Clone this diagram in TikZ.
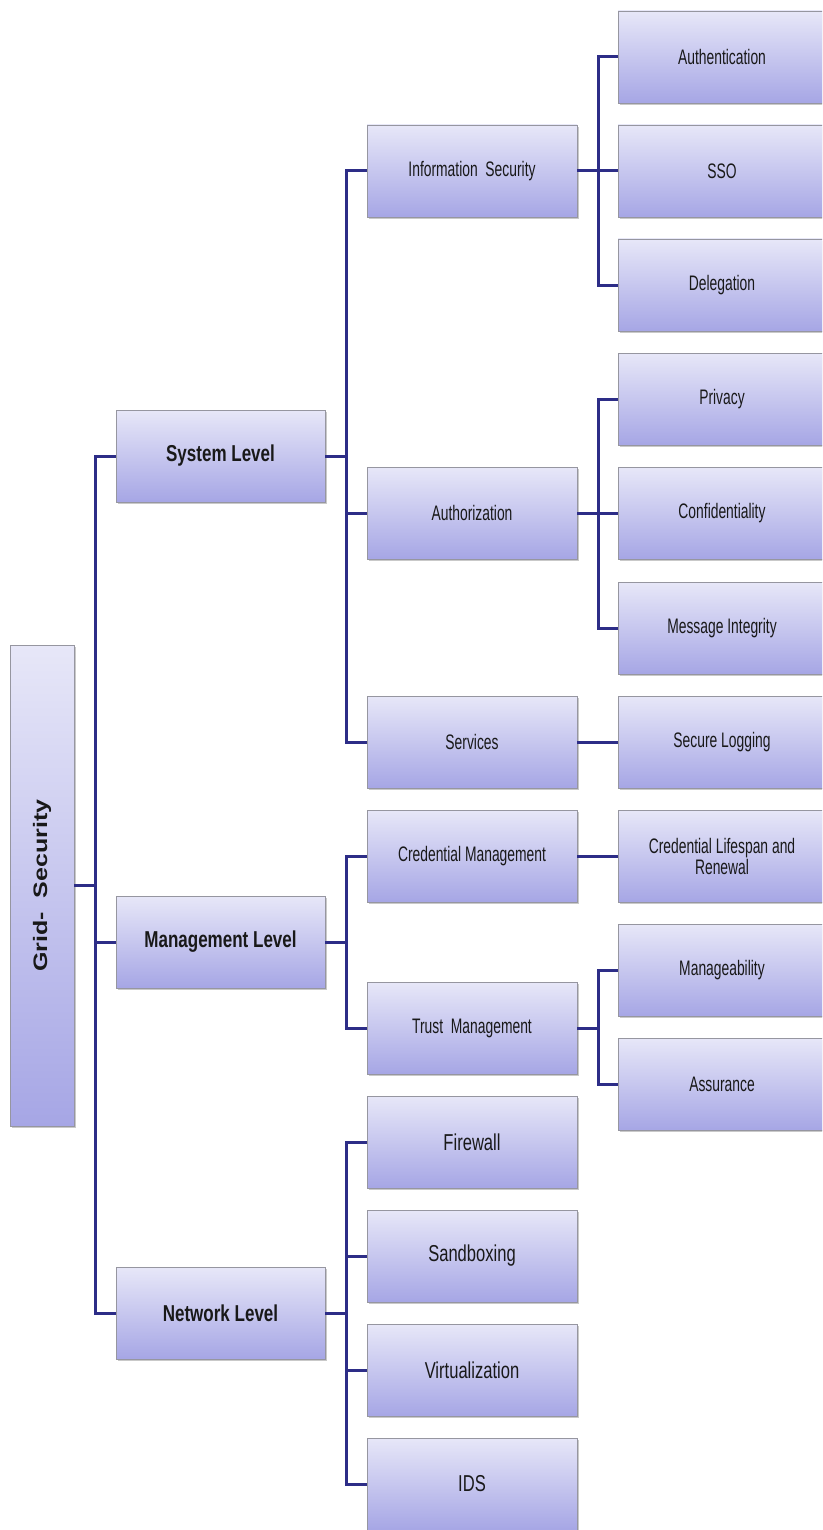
\documentclass[tikz,border=0pt]{standalone}
\usepackage{fontspec}
\setmainfont{Liberation Sans}
\newfontfamily\boxfont[FakeStretch=0.66]{Liberation Sans}
\newfontfamily\netfont[FakeStretch=0.72]{Liberation Sans}
\newfontfamily\lvfont[FakeStretch=0.74]{Liberation Sans}
\usetikzlibrary{shadows}
\definecolor{linkblue}{RGB}{45,45,135}
\definecolor{boxtop}{RGB}{231,231,248}
\definecolor{boxbot}{RGB}{166,166,229}
\definecolor{boxedge}{RGB}{150,150,160}
\tikzset{
  card/.style={draw=boxedge, line width=0.8pt, top color=boxtop, bottom color=boxbot,
    inner sep=0pt, align=center, text=black!90,
    drop shadow={shadow xshift=1.8pt, shadow yshift=-2.2pt, opacity=0.35, fill=black!60}},
  rootbox/.style={card, minimum width=64pt, minimum height=481pt},
  lvbox/.style={card, minimum width=209pt, minimum height=92pt,
    font=\lvfont\bfseries\fontsize{23}{26}\selectfont},
  midbox/.style={card, minimum width=210pt, minimum height=92pt,
    font=\boxfont\fontsize{21}{22}\selectfont},
  netbox/.style={card, minimum width=210pt, minimum height=92pt,
    font=\netfont\fontsize{23}{26}\selectfont},
  leafbox/.style={card, minimum width=208pt, minimum height=92pt,
    font=\boxfont\fontsize{21}{22}\selectfont},
  link/.style={draw=linkblue, line width=3pt}
}
\begin{document}
\begin{tikzpicture}[x=1pt,y=-1pt]
\clip (0,0) rectangle (822,1530);
\fill[white] (0,0) rectangle (822,1530);

% root
\node[rootbox] (root) at (42,885.5)
  {\rotatebox{90}{\scalebox{1}[0.78]{\fontsize{25}{28}\selectfont\bfseries Grid-\ \ Security}}};

% first level
\node[lvbox] (sys)  at (220.5,456) {System Level};
\node[lvbox] (mgmt) at (220.5,942) {Management Level};
\node[lvbox] (net)  at (220.5,1313) {Network Level};

% second level
\node[midbox] (info)  at (472,171)  {Information\ \ Security};
\node[midbox] (authz) at (472,513)  {Authorization};
\node[midbox] (serv)  at (472,742)  {Services};
\node[midbox] (cred)  at (472,856)  {Credential Management};
\node[midbox] (trust) at (472,1028) {Trust\ \ Management};
\node[netbox] (fw)    at (472,1142) {Firewall};
\node[netbox] (sand)  at (472,1256) {Sandboxing};
\node[netbox] (virt)  at (472,1370) {Virtualization};
\node[netbox] (ids)   at (472,1484) {IDS};

% third level
\node[leafbox] (authn)  at (722,57)   {Authentication};
\node[leafbox] (sso)    at (722,171)  {SSO};
\node[leafbox] (deleg)  at (722,285)  {Delegation};
\node[leafbox] (priv)   at (722,399)  {Privacy};
\node[leafbox] (conf)   at (722,513)  {Confidentiality};
\node[leafbox] (msg)    at (722,628)  {Message Integrity};
\node[leafbox] (seclog) at (722,742)  {Secure Logging};
\node[leafbox] (life)   at (722,856)  {Credential Lifespan and\\[-1pt]Renewal};
\node[leafbox] (manage) at (722,970)  {Manageability};
\node[leafbox] (assur)  at (722,1084) {Assurance};

% connectors
\foreach \c in {sys,mgmt,net}
  \draw[link] (root.east) -- ++(21,0) |- (\c.west);
\foreach \c in {info,authz,serv}
  \draw[link] (sys.east) -- ++(21,0) |- (\c.west);
\foreach \c in {cred,trust}
  \draw[link] (mgmt.east) -- ++(21,0) |- (\c.west);
\foreach \c in {fw,sand,virt,ids}
  \draw[link] (net.east) -- ++(21,0) |- (\c.west);
\foreach \c in {authn,sso,deleg}
  \draw[link] (info.east) -- ++(21,0) |- (\c.west);
\foreach \c in {priv,conf,msg}
  \draw[link] (authz.east) -- ++(21,0) |- (\c.west);
\draw[link] (serv.east) -- (seclog.west);
\draw[link] (cred.east) -- (life.west);
\foreach \c in {manage,assur}
  \draw[link] (trust.east) -- ++(21,0) |- (\c.west);
\end{tikzpicture}
\end{document}
